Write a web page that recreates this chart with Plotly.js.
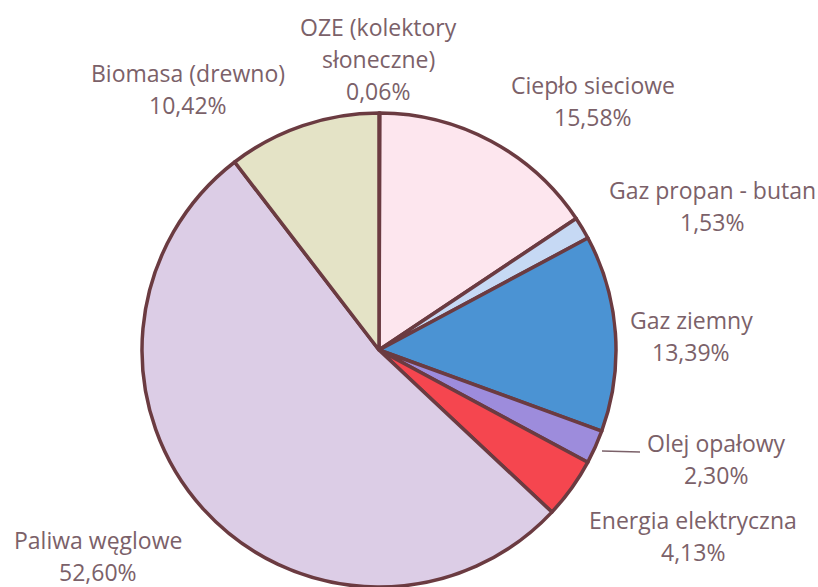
<!DOCTYPE html>
<html>
<head>
<meta charset="utf-8">
<script src="https://cdn.plot.ly/plotly-3.0.1.min.js"></script>
<style>html,body{margin:0;padding:0;background:#fff;}#chart{width:818px;height:587px;}</style>
</head>
<body>
<div id="chart"></div>
<script>
const categories = ["OZE (kolektory słoneczne)", "Ciepło sieciowe", "Gaz propan - butan", "Gaz ziemny", "Olej opałowy", "Energia elektryczna", "Paliwa węglowe", "Biomasa (drewno)"];
const values = [0.06, 15.58, 1.53, 13.39, 2.30, 4.13, 52.60, 10.42];
const valueLabels = ["0,06%", "15,58%", "1,53%", "13,39%", "2,30%", "4,13%", "52,60%", "10,42%"];
const labelLines = [["OZE (kolektory", "słoneczne)"], ["Ciepło sieciowe"], ["Gaz propan - butan"], ["Gaz ziemny"], ["Olej opałowy"], ["Energia elektryczna"], ["Paliwa węglowe"], ["Biomasa (drewno)"]];
const colors = ["#e8e07a", "#fde6ee", "#c6d9f4", "#4b93d3", "#9d8cdc", "#f5464f", "#dccde6", "#e4e3c6"];

// label anchor positions (pixels, top-left origin) for the first line
const W = 818, H = 587;
const labelPos = [[378, 27], [593, 85], [712, 190], [691, 320], [716, 443], [693, 520], [98, 540], [188, 73]];
const lineGap = 32;

const annotations = [];
const textColor = "#7b6169";
const fnt = {family: "'Open Sans', sans-serif", size: 23, color: textColor};
labelPos.forEach((p, i) => {
  const lines = labelLines[i].concat([valueLabels[i]]);
  lines.forEach((t, k) => {
    annotations.push({
      x: p[0] / W, y: 1 - (p[1] + k * lineGap) / H,
      xref: "paper", yref: "paper", xanchor: "center", yanchor: "middle",
      text: t, showarrow: false, font: fnt
    });
  });
});

const data = [{
  type: "pie",
  labels: categories,
  values: values,
  sort: false,
  direction: "clockwise",
  rotation: 0,
  textinfo: "none",
  hoverinfo: "label+percent",
  marker: {colors: colors, line: {color: "#6b3b41", width: 3.5}},
  domain: {x: [141 / W, 617 / W], y: [0, 1 - 113 / H]},
  showlegend: false
}];

const layout = {
  width: W, height: H,
  margin: {l: 0, r: 0, t: 0, b: 0},
  paper_bgcolor: "#ffffff",
  annotations: annotations,
  shapes: [{
    type: "line", xref: "paper", yref: "paper",
    x0: 602 / W, y0: 1 - 451 / H, x1: 640 / W, y1: 1 - 452 / H,
    line: {color: "#7b6169", width: 1.5}
  }]
};

Plotly.newPlot("chart", data, layout, {displayModeBar: false});
</script>
</body>
</html>
